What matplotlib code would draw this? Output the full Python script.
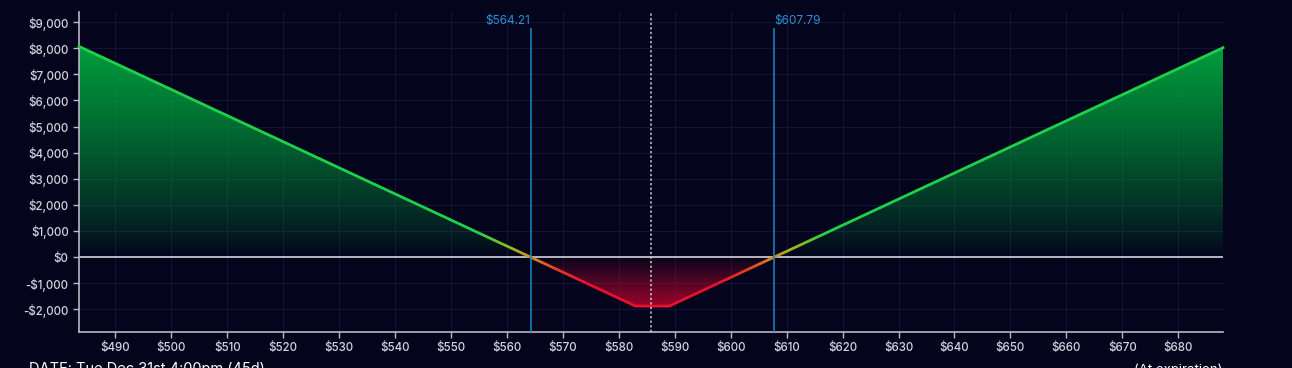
import numpy as np
import matplotlib
matplotlib.use("Agg")
import matplotlib.pyplot as plt
from matplotlib.colors import LinearSegmentedColormap, Normalize
from matplotlib.patches import Rectangle
from matplotlib.path import Path
from matplotlib.ticker import FuncFormatter

# payoff at expiration (key points)
prices = [483.5, 564.21, 583.0, 589.0, 607.79, 688.0]
pnl = [8071, 0, -1879, -1879, 0, 8021]
breakevens = [564.21, 607.79]
current_price = 585.8
x_ticks = list(range(490, 690, 10))
y_ticks = list(range(-2000, 10000, 1000))

bg = "#04041c"
plt.rcParams['font.family'] = ['Inter', 'DejaVu Sans']

fig = plt.figure(figsize=(12.92, 3.68), dpi=100, facecolor=bg)
ax = fig.add_axes([79/1292, 1-332/368, (1223-79)/1292, (332-12)/368])
ax.set_facecolor(bg)
ax.set_xlim(483.5, 688.0)
ax.set_ylim(-2870, 9390)

# grid
ax.set_xticks(x_ticks)
ax.set_yticks(y_ticks)
ax.grid(True, color="#131334", lw=0.8)
ax.set_axisbelow(True)

# gradient fills, clipped to the profit/loss areas
xmin, xmax = ax.get_xlim()
ymax_pnl = max(pnl)
ymin_pnl = min(pnl)
n = 300
g = np.linspace(0, 1, n)[:, None]

green = np.zeros((n, 1, 4))
green[..., 1] = 0.64
green[..., 2] = 0.24
green[..., 3] = g ** 0.85 * 0.97
im = ax.imshow(green, extent=(xmin, xmax, 0, ymax_pnl), origin='lower',
               aspect='auto', interpolation='bilinear', zorder=1)
left = ax.fill_between(prices[:2], pnl[:2], 0, color='none', lw=0)
right = ax.fill_between(prices[4:], pnl[4:], 0, color='none', lw=0)
gain_path = Path.make_compound_path(left.get_paths()[0], right.get_paths()[0])
im.set_clip_path(gain_path, transform=ax.transData)

red = np.zeros((n, 1, 4))
red[..., 0] = 0.68
red[..., 1] = 0.02
red[..., 2] = 0.18
red[..., 3] = g[::-1] * 0.9
im2 = ax.imshow(red, extent=(xmin, xmax, ymin_pnl, 0), origin='lower',
                aspect='auto', interpolation='bilinear', zorder=1)
loss = ax.fill_between(prices[1:5], pnl[1:5], 0, color='none', lw=0)
im2.set_clip_path(loss.get_paths()[0], transform=ax.transData)

# zero line
ax.axhline(0, color="#c4c4cc", lw=1.3, zorder=2)

# payoff line, coloured by value via horizontal clipping bands
cmap = LinearSegmentedColormap.from_list(
    "pl", [(0.0, "#e8102c"), (0.25, "#e23a22"), (0.5, "#d88a1e"),
           (0.7, "#8cbc1e"), (1.0, "#1fd14a")])
norm = Normalize(-1000, 1000)
edges = np.arange(-3000, 10000, 50)
for lo in edges:
    mid = lo + 25
    rect = Rectangle((xmin - 5, lo), xmax - xmin + 10, 50, transform=ax.transData)
    line, = ax.plot(prices, pnl, color=cmap(norm(mid)), lw=2.0,
                    solid_joinstyle='miter', zorder=4)
    line.set_clip_path(rect)

# breakeven lines and labels
for i, be in enumerate(breakevens):
    ax.axvline(be, ymin=0, ymax=0.946, color="#1a7fc0", lw=1.2, zorder=5)
    ha = 'right' if i == 0 else 'left'
    ax.text(be, 0.972, f"${be:.2f}", transform=ax.get_xaxis_transform(),
            ha=ha, va='center', color="#2a8fd8", fontsize=8.5)

# current price
ax.axvline(current_price, color="#c8c8d4", lw=1.1, ls=(0, (1.5, 1.5)), zorder=5)

# spines / ticks
for s in ['top', 'right']:
    ax.spines[s].set_visible(False)
for s in ['left', 'bottom']:
    ax.spines[s].set_color("#b8b8c4")
    ax.spines[s].set_linewidth(1.2)
ax.tick_params(colors="#b8b8c4", labelcolor="#d4d4e0", labelsize=8.3, length=4, width=1)
for lab in ax.get_xticklabels() + ax.get_yticklabels():
    lab.set_fontweight('medium')
ax.xaxis.set_major_formatter(FuncFormatter(lambda v, p: f"${v:.0f}"))
ax.yaxis.set_major_formatter(FuncFormatter(
    lambda v, p: f"-${abs(v):,.0f}" if v < 0 else f"${v:,.0f}"))

# footer (cut off by the edge of the picture, as in the original)
fig.text(29/1292, 1-362/368, "DATE: Tue Dec 31st 4:00pm (45d)", color="white",
         fontsize=10.5, ha='left', va='top')
fig.text(1222/1292, 1-364/368, "(At expiration)", color="white",
         fontsize=9.5, ha='right', va='top')

fig.savefig("out.png", dpi=100, facecolor=bg)
